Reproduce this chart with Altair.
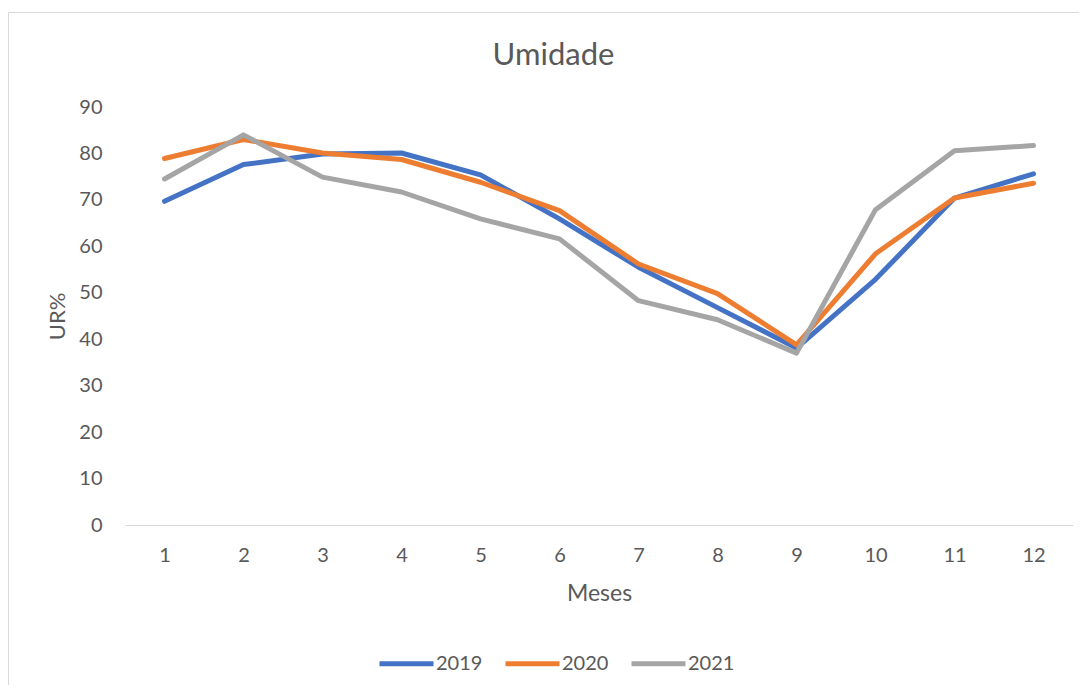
import altair as alt
import pandas as pd

meses = [1, 2, 3, 4, 5, 6, 7, 8, 9, 10, 11, 12]
ur_2019 = [69.7, 77.6, 79.9, 80.1, 75.4, 65.9, 55.5, 46.8, 38.1, 52.9, 70.4, 75.6]
ur_2020 = [78.9, 83.0, 80.1, 78.7, 73.8, 67.7, 56.2, 49.8, 38.8, 58.4, 70.4, 73.6]
ur_2021 = [74.5, 84.0, 74.9, 71.7, 65.9, 61.6, 48.3, 44.2, 37.0, 67.9, 80.6, 81.7]
anos = ["2019", "2020", "2021"]
cores = ["#4472C4", "#ED7D31", "#A5A5A5"]
y_ticks = [0, 10, 20, 30, 40, 50, 60, 70, 80, 90]

rows = []
for ano, vals in zip(anos, [ur_2019, ur_2020, ur_2021]):
    for m, v in zip(meses, vals):
        rows.append({"Mes": m, "UR": v, "Ano": ano})
df = pd.DataFrame(rows)

FONT = "Lato"
TXT = "#595959"
W, H = 948, 418

one = pd.DataFrame({"a": [0]})
border_left = alt.Chart(one).mark_rule(stroke="#d9d9d9", strokeWidth=1).encode(
    x=alt.value(-116.5), y=alt.value(-94.5), y2=alt.value(700)
)
border_top = alt.Chart(one).mark_rule(stroke="#d9d9d9", strokeWidth=1).encode(
    x=alt.value(-116.5), x2=alt.value(1100), y=alt.value(-94.5)
)

lines = alt.Chart(df).mark_line(
    strokeWidth=5, strokeCap="round", strokeJoin="round"
).encode(
    x=alt.X(
        "Mes:O",
        title="Meses",
        sort=meses,
        axis=alt.Axis(
            labelAngle=0, ticks=False, tickSize=0, labelPadding=20,
            labelFont=FONT, labelFontSize=20, labelColor=TXT,
            domainColor="#d9d9d9", domainWidth=1, grid=False,
            titleFont=FONT, titleFontSize=23, titleColor=TXT, titleFontWeight="normal",
            titleBaseline="middle", titleY=68,
        ),
    ),
    y=alt.Y(
        "UR:Q",
        title="UR%",
        scale=alt.Scale(domain=[0, 90], nice=False),
        axis=alt.Axis(
            values=y_ticks, ticks=False, tickSize=0, labelPadding=23, domain=False, grid=False,
            labelFont=FONT, labelFontSize=20, labelColor=TXT,
            titleFont=FONT, titleFontSize=22, titleColor=TXT, titleFontWeight="normal",
            titleBaseline="middle", titleX=-68, titleY=H / 2,
        ),
    ),
    color=alt.Color(
        "Ano:N",
        scale=alt.Scale(domain=anos, range=cores),
        legend=alt.Legend(
            title=None, orient="none", legendX=252, legendY=527, direction="horizontal",
            symbolType="stroke", symbolSize=2916, symbolStrokeWidth=5,
            labelFont=FONT, labelFontSize=20, labelColor=TXT, labelOffset=0,
            columnPadding=12, padding=0,
        ),
    ),
)

title = alt.Chart(pd.DataFrame({"t": ["Umidade"]})).mark_text(
    font=FONT, fontSize=31, color=TXT, baseline="alphabetic", align="center"
).encode(text="t:N", x=alt.value(428.5), y=alt.value(-42))

chart = alt.layer(border_left, border_top, lines, title).properties(
    width=W, height=H,
    autosize=alt.AutoSizeParams(type="none"),
    padding={"left": 117, "top": 99, "right": 6, "bottom": 160},
    background="white",
).configure_view(stroke=None)

chart.save("out.html", embed_options={"renderer": "svg", "actions": False})
